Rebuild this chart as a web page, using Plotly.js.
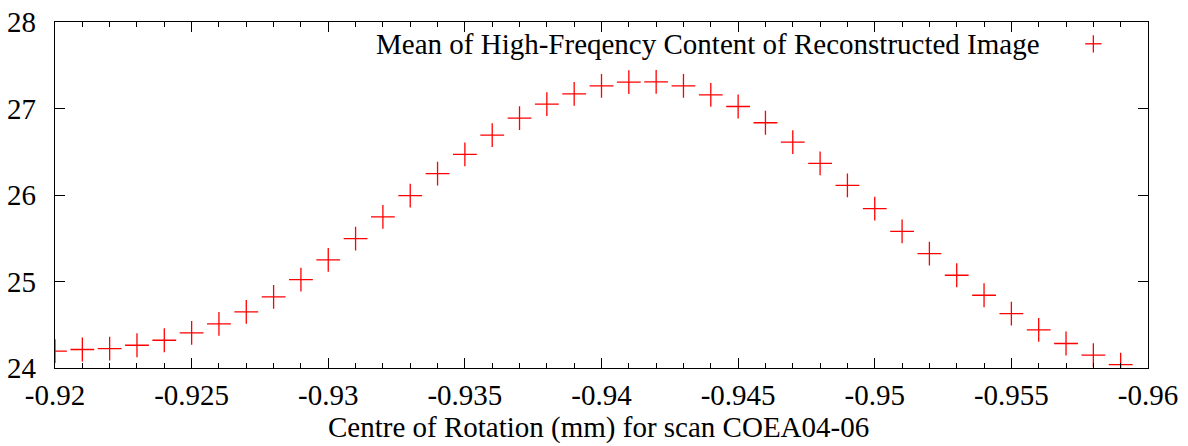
<!DOCTYPE html>
<html>
<head>
<meta charset="utf-8">
<script src="https://cdn.plot.ly/plotly-3.0.1.min.js"></script>
</head>
<body style="margin:0">
<div id="chart"></div>
<script>
const centreOfRotation = [
  -0.920, -0.921, -0.922, -0.923, -0.924, -0.925, -0.926, -0.927, -0.928, -0.929,
  -0.930, -0.931, -0.932, -0.933, -0.934, -0.935, -0.936, -0.937, -0.938, -0.939,
  -0.940, -0.941, -0.942, -0.943, -0.944, -0.945, -0.946, -0.947, -0.948, -0.949,
  -0.950, -0.951, -0.952, -0.953, -0.954, -0.955, -0.956, -0.957, -0.958, -0.959
];
const meanHighFreq = [
  24.194, 24.214, 24.225, 24.263, 24.321, 24.406, 24.510, 24.649, 24.822, 25.022,
  25.249, 25.495, 25.746, 25.992, 26.246, 26.469, 26.693, 26.889, 27.051, 27.170,
  27.262, 27.305, 27.308, 27.262, 27.158, 27.023, 26.835, 26.612, 26.365, 26.111,
  25.842, 25.580, 25.322, 25.072, 24.841, 24.629, 24.441, 24.283, 24.148, 24.040
];
const xTickVals = [-0.92, -0.925, -0.93, -0.935, -0.94, -0.945, -0.95, -0.955, -0.96];
const xTickText = ["-0.92", "-0.925", "-0.93", "-0.935", "-0.94", "-0.945", "-0.95", "-0.955", "-0.96"];
const yTickVals = [24, 25, 26, 27, 28];
const yTickText = ["24", "25", "26", "27", "28"];
const seriesName = "Mean of High-Freqency Content of Reconstructed Image";
const xTitle = "Centre of Rotation (mm) for scan COEA04-06";

const FONT = "Liberation Serif";
const FS = 29;

const trace = {
  x: centreOfRotation,
  y: meanHighFreq,
  type: "scatter",
  mode: "markers",
  name: seriesName,
  showlegend: false,
  marker: {symbol: "cross-thin-open", size: 17, color: "#ff0000", line: {color: "#ff0000", width: 1.3}}
};

const layout = {
  width: 1188,
  height: 446,
  margin: {l: 54.5, r: 40.3, t: 22, b: 77.5, pad: 0},
  paper_bgcolor: "#ffffff",
  plot_bgcolor: "#ffffff",
  xaxis: {
    range: [-0.92, -0.96],
    tickmode: "array",
    tickvals: xTickVals,
    ticktext: xTickText,
    ticks: "inside",
    ticklen: 10,
    tickwidth: 1,
    tickcolor: "#000",
    minor: {dtick: 0.001, tick0: -0.92, ticks: "inside", ticklen: 5, tickwidth: 1, tickcolor: "#000", showgrid: false},
    showline: true,
    linecolor: "#000",
    linewidth: 1.3,
    mirror: "allticks",
    showgrid: false,
    zeroline: false,
    ticklabelstandoff: 1,
    tickfont: {family: FONT, size: FS, color: "#000"}
  },
  yaxis: {
    range: [24, 28],
    tickmode: "array",
    tickvals: yTickVals,
    ticktext: yTickText,
    ticks: "inside",
    ticklen: 10,
    tickwidth: 1,
    tickcolor: "#000",
    showline: true,
    linecolor: "#000",
    linewidth: 1.3,
    mirror: "allticks",
    showgrid: false,
    zeroline: false,
    ticklabelstandoff: 12,
    tickfont: {family: FONT, size: FS, color: "#000"}
  },
  annotations: [
    {
      xref: "paper", yref: "paper",
      x: 0.903, y: 0.937,
      xanchor: "right", yanchor: "middle",
      text: seriesName,
      showarrow: false,
      font: {family: FONT, size: FS, color: "#000"}
    },
    {
      xref: "paper", yref: "paper",
      x: 0.497, y: -0.172,
      xanchor: "center", yanchor: "middle",
      text: xTitle,
      showarrow: false,
      font: {family: FONT, size: FS, color: "#000"}
    }
  ],
  shapes: [
    {type: "line", xref: "paper", yref: "paper", x0: 0.9425, x1: 0.9575, y0: 0.937, y1: 0.937, line: {color: "#ff0000", width: 1.3}},
    {type: "line", xref: "paper", yref: "paper", x0: 0.95, x1: 0.95, y0: 0.912, y1: 0.962, line: {color: "#ff0000", width: 1.3}}
  ]
};

Plotly.newPlot("chart", [trace], layout, {staticPlot: true});
</script>
</body>
</html>
